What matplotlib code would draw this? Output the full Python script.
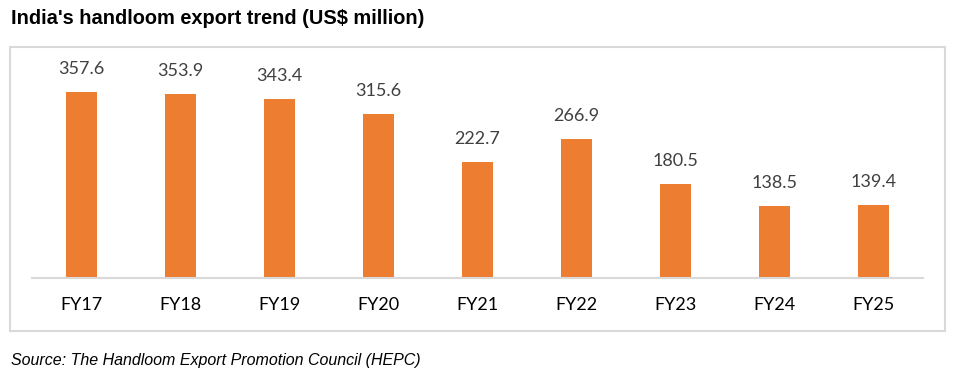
import matplotlib.pyplot as plt
from matplotlib.patches import Rectangle

# 数据
years = ["FY17", "FY18", "FY19", "FY20", "FY21", "FY22", "FY23", "FY24", "FY25"]
exports = [357.6, 353.9, 343.4, 315.6, 222.7, 266.9, 180.5, 138.5, 139.4]

W, H = 956, 373

fig = plt.figure(figsize=(W / 100, H / 100), dpi=100)

# 外框
frame = Rectangle((10 / W, 1 - 331 / H), 935 / W, 284 / H,
                  transform=fig.transFigure, fill=False,
                  edgecolor="#D9D9D9", linewidth=1.5)
fig.patches.append(frame)

# 坐标轴：x 从 32 到 923 像素，基线在 278 像素
ax = fig.add_axes([32 / W, 1 - 278 / H, (923 - 32) / W, (278 - 47) / H])

positions = range(len(years))
bars = ax.bar(positions, exports, width=0.315, color="#ED7D31")

ax.set_xlim(-0.5, len(years) - 0.5)
ax.set_ylim(0, 444)

for spine in ["top", "right", "left"]:
    ax.spines[spine].set_visible(False)
ax.spines["bottom"].set_color("#D9D9D9")
ax.spines["bottom"].set_linewidth(1.5)

ax.set_yticks([])
ax.set_xticks(list(positions))
ax.set_xticklabels(years, fontsize=13, family="Lato", color="#000000")
ax.tick_params(axis="x", length=0, pad=14)

# 柱子上方数值
for x, value in zip(positions, exports):
    ax.annotate(f"{value:.1f}", (x, value), xytext=(0, 15),
                textcoords="offset pixels", ha="center", va="bottom",
                fontsize=13, family="Lato", color="#404040")

fig.text(11 / W, 1 - 19 / H, "India's handloom export trend (US$ million)",
         fontsize=14.4, fontweight="bold", family="Liberation Sans",
         ha="left", va="center")

fig.text(11 / W, 1 - 360 / H, "Source: The Handloom Export Promotion Council (HEPC)",
         fontsize=11.5, style="italic", family="Liberation Sans",
         ha="left", va="center")

plt.savefig("out.png", dpi=100)
plt.close(fig)
